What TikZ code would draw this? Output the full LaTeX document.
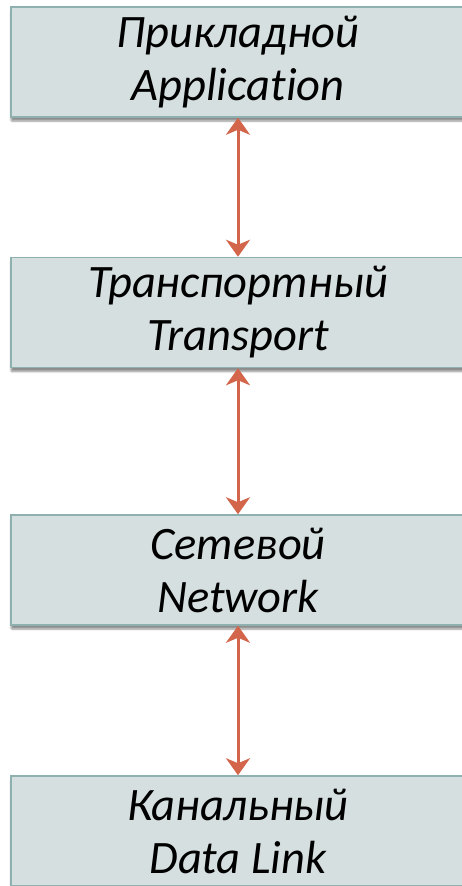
\documentclass[tikz,border=0pt]{standalone}
\usepackage{fontspec}
\setmainfont{Carlito}[Ligatures=NoCommon]
\usetikzlibrary{shadows.blur,arrows.meta}
\definecolor{layerfill}{HTML}{D6DFE0}
\definecolor{layerline}{HTML}{8EB0AF}
\definecolor{linkred}{HTML}{D2654A}
\tikzset{
  layer/.style={draw=layerline, line width=1.5pt, fill=layerfill,
    minimum width=454pt, minimum height=110pt, inner sep=0pt,
    align=center, text=black,
    font=\fontsize{46.5}{53}\selectfont\itshape,
    blur shadow={shadow xshift=0pt, shadow yshift=-4pt, shadow blur steps=6, shadow blur extra rounding=1pt, shadow opacity=45}},
  link/.style={draw=linkred, line width=3pt,
    {Stealth[length=17pt,width=24pt,inset=5pt]}-{Stealth[length=17pt,width=24pt,inset=5pt]}}
}
\begin{document}
\begin{tikzpicture}[x=1pt,y=1pt]
\useasboundingbox (0,0) rectangle (461,-886);
\node[layer] (app) at (238,-62) {Прикладной\\Application};
\node[layer] (tr)  at (238,-312.5) {Транспортный\\Transport};
\node[layer] (net) at (238,-570) {Сетевой\\Network};
\node[layer] (dl)  at (238,-831) {Канальный\\Data Link};
\draw[link] (app.south) -- (tr.north);
\draw[link] (tr.south) -- (net.north);
\draw[link] (net.south) -- (dl.north);
\end{tikzpicture}
\end{document}
